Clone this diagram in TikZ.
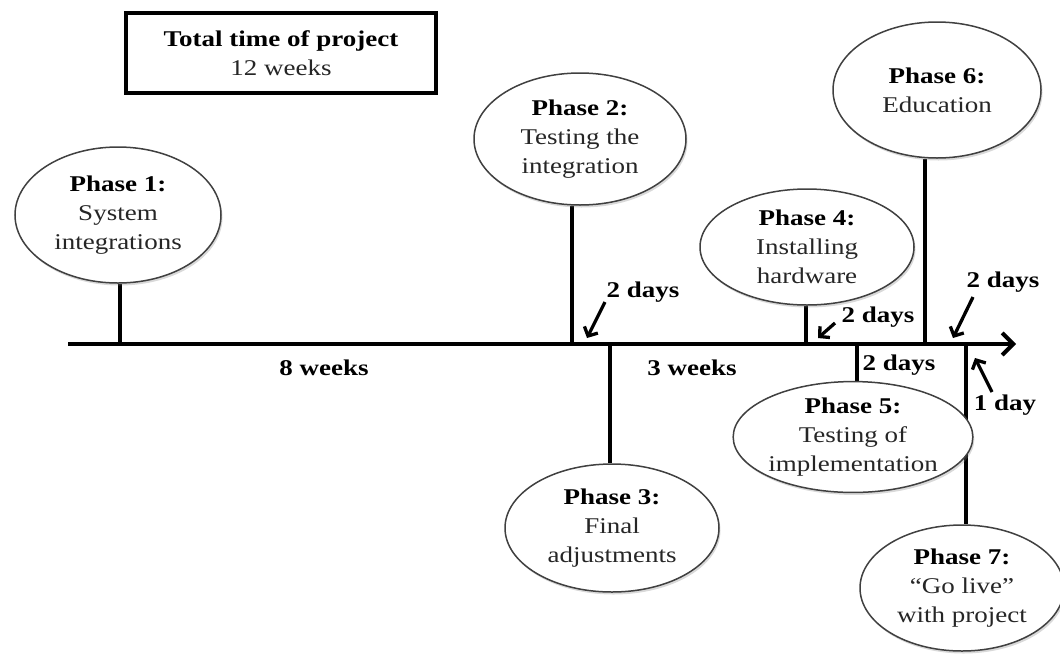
\documentclass[tikz,border=0pt]{standalone}
\usepackage{fontspec}
\setmainfont{Liberation Serif}[FakeStretch=1.2]
\usetikzlibrary{shapes.geometric,arrows.meta,shadows,backgrounds}

\newcommand\tlfont{\fontsize{22.5}{29}\selectfont}
\newcommand\tlbody[1]{\textcolor{black!85}{#1}}

\begin{document}
\begin{tikzpicture}[x=1pt,y=-1pt,
  phase/.style={ellipse, draw=black!75, line width=1.5pt, fill=white,
    inner sep=0pt, align=center, font=\tlfont,
    drop shadow={shadow xshift=1.5pt, shadow yshift=-2.5pt, opacity=0.3}},
  totalbox/.style={rectangle, draw=black, line width=3.4pt, fill=white,
    inner sep=0pt, align=center, font=\tlfont, minimum width=310pt,
    minimum height=80pt,
    drop shadow={shadow xshift=1pt, shadow yshift=-1.5pt, opacity=0.3}},
  stem/.style={line width=3.6pt, black},
  timeline/.style={line width=4pt, black,
    -{Straight Barb[length=11pt,width=22pt]}},
  pointer/.style={line width=3.3pt, black,
    -{Straight Barb[length=7pt,width=15pt]}},
  lbl/.style={font=\tlfont\bfseries, inner sep=0pt}
]
\useasboundingbox (0,0) rectangle (1060,657);

% project total
\node[totalbox] (total) at (281,53)
  {\textbf{Total time of project}\\\tlbody{12 weeks}};

% timeline anchor points
\coordinate (t0) at (68,344);
\coordinate (tend) at (1016,344);
\coordinate (t1) at (120,344);
\coordinate (t2) at (572,344);
\coordinate (t3) at (610,344);
\coordinate (t4) at (806,344);
\coordinate (t5) at (857,344);
\coordinate (t6) at (925,344);
\coordinate (t7) at (966,344);

% phases
\node[phase, minimum width=206pt, minimum height=136pt] (p1) at (118,215)
  {\textbf{Phase 1:}\\\tlbody{System}\\\tlbody{integrations}};
\node[phase, minimum width=212pt, minimum height=132pt] (p2) at (580,139)
  {\textbf{Phase 2:}\\\tlbody{Testing the}\\\tlbody{integration}};
\node[phase, minimum width=214pt, minimum height=128pt] (p3) at (612,528)
  {\textbf{Phase 3:}\\\tlbody{Final}\\\tlbody{adjustments}};
\node[phase, minimum width=214pt, minimum height=116pt] (p4) at (807,247)
  {\textbf{Phase 4:}\\\tlbody{Installing}\\\tlbody{hardware}};
\node[phase, minimum width=216pt, minimum height=110pt] (p5) at (853,437)
  {\textbf{Phase 5:}\\\tlbody{Testing of}\\\tlbody{implementation}};
\node[phase, minimum width=208pt, minimum height=136pt] (p6) at (937,90)
  {\textbf{Phase 6:}\\\tlbody{Education}};
\node[phase, minimum width=204pt, minimum height=126pt] (p7) at (962,588)
  {\textbf{Phase 7:}\\\tlbody{``Go live''}\\\tlbody{with project}};

% stems from the timeline to each phase
\begin{scope}[on background layer]
  \draw[stem] (t1) -- (p1.south -| t1);
  \draw[stem] (t2) -- (p2.south -| t2);
  \draw[stem] (t3) -- (p3.north -| t3);
  \draw[stem] (t4) -- (p4.south -| t4);
  \draw[stem] (t5) -- (p5.north -| t5);
  \draw[stem] (t6) -- (p6.south -| t6);
  \draw[stem] (t7) -- (p7.north -| t7);
\end{scope}

% main time axis
\draw[timeline] (t0) -- (tend);

% durations
\node[lbl] (w1) at (324,368) {8 weeks};
\node[lbl] (w2) at (692,368) {3 weeks};
\node[lbl] (d2) at (643,292) {2 days};
\node[lbl] (d4) at (878,317) {2 days};
\node[lbl] (d5) at (899,365) {2 days};
\node[lbl] (d6) at (1003,282) {2 days};
\node[lbl] (d7) at (1005,405) {1 day};

% pointers to the gaps on the axis
\coordinate (a2s) at (605,302); \coordinate (a2e) at (587,338);
\coordinate (a4s) at (835,323); \coordinate (a4e) at (818,338);
\coordinate (a6s) at (973,297); \coordinate (a6e) at (953,338);
\coordinate (a7s) at (992,392); \coordinate (a7e) at (975,358);
\draw[pointer] (a2s) -- (a2e);
\draw[pointer] (a4s) -- (a4e);
\draw[pointer] (a6s) -- (a6e);
\draw[pointer] (a7s) -- (a7e);
\end{tikzpicture}
\end{document}
